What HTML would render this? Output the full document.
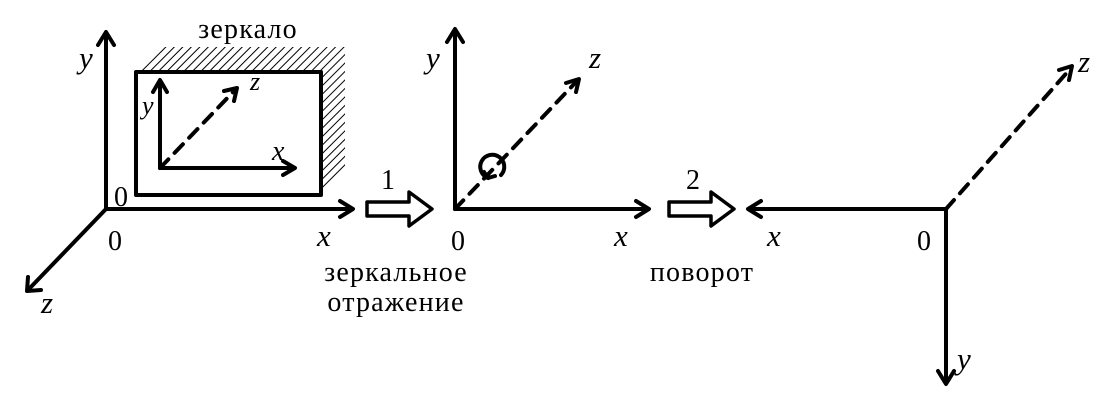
<!DOCTYPE html>
<html><head><meta charset="utf-8"><style>
html,body{margin:0;padding:0;background:#fff;}
svg{display:block;}
text{font-family:"Liberation Serif",serif;fill:#000;}
.i{font-style:italic;font-size:31px;}
.n{font-size:28px;}
.t{font-size:28px;letter-spacing:1.2px;}
</style></head><body>
<svg width="1106" height="417" viewBox="0 0 1106 417" xmlns="http://www.w3.org/2000/svg">
<defs>
<pattern id="h" width="6" height="6" patternUnits="userSpaceOnUse" patternTransform="rotate(45)">
<rect width="6" height="6" fill="#fff"/><line x1="0" y1="0" x2="0" y2="6" stroke="#000" stroke-width="2"/>
</pattern>
</defs>
<g stroke="#000" fill="none" stroke-width="3.5" stroke-linecap="round" stroke-linejoin="round">
<polygon points="136,72 160,47 345,47 345,172 321,196 321,72" fill="url(#h)" stroke="none"/>
<rect x="136" y="72" width="185" height="123" stroke-width="4" fill="#fff"/>
<g stroke-width="4">
<line x1="106" y1="209" x2="106" y2="33"/><polyline points="98,45 106,32 114,45"/>
<line x1="106" y1="209" x2="352" y2="209"/><polyline points="340,201 353,209 340,217"/>
<line x1="106" y1="209" x2="28" y2="290"/><polyline points="28,277 27,291 41,290"/>
<line x1="160" y1="168" x2="160" y2="81"/><polyline points="153,92 160,80 167,92"/>
<line x1="160" y1="168" x2="294" y2="168"/><polyline points="283,161 295,168 283,175"/>
<line x1="160" y1="168" x2="236" y2="89" stroke-dasharray="12,9"/><polyline points="224,91 237,88 234,101"/>
<line x1="455" y1="209" x2="455" y2="30"/><polyline points="447,42 455,29 463,42"/>
<line x1="455" y1="209" x2="648" y2="209"/><polyline points="636,201 649,209 636,217"/>
<line x1="455" y1="209" x2="578" y2="80" stroke-dasharray="12,9"/><polyline points="566,83 579,79 576,92"/>
<path d="M 488,178 A 12 12 0 1 1 501,175"/><polyline points="484,172 488,178 495,176"/>
<line x1="946" y1="209" x2="749" y2="209"/><polyline points="761,201 748,209 761,217"/>
<line x1="946" y1="209" x2="946" y2="383"/><polyline points="938,371 946,384 954,371"/>
<line x1="946" y1="209" x2="1071" y2="68" stroke-dasharray="12,9"/><polyline points="1059,70 1072,66 1069,80"/>
</g>
<polygon points="367,202 409,202 409,192 432,209 409,226 409,216 367,216" stroke-width="3.5"/>
<polygon points="669,202 711,202 711,192 734,209 711,226 711,216 669,216" stroke-width="3.5"/>
</g>
<text x="248" y="38" class="t" text-anchor="middle">зеркало</text>
<text x="79" y="68" class="i">y</text>
<text x="114" y="206" class="n">0</text>
<text x="108" y="250" class="n">0</text>
<text x="317" y="246" class="i">x</text>
<text x="41" y="313" class="i">z</text>
<text x="142" y="114" class="i" style="font-size:26px">y</text>
<text x="272" y="160" class="i" style="font-size:28px">x</text>
<text x="250" y="90" class="i" style="font-size:26px">z</text>
<text x="381" y="189" class="n">1</text>
<text x="396" y="281" class="t" text-anchor="middle">зеркальное</text>
<text x="396" y="311" class="t" text-anchor="middle">отражение</text>
<text x="426" y="68" class="i">y</text>
<text x="589" y="68" class="i">z</text>
<text x="451" y="250" class="n">0</text>
<text x="614" y="246" class="i">x</text>
<text x="686" y="189" class="n">2</text>
<text x="702" y="281" class="t" text-anchor="middle">поворот</text>
<text x="767" y="246" class="i">x</text>
<text x="917" y="250" class="n">0</text>
<text x="957" y="369" class="i">y</text>
<text x="1078" y="72" class="i">z</text>
</svg>
</body></html>
